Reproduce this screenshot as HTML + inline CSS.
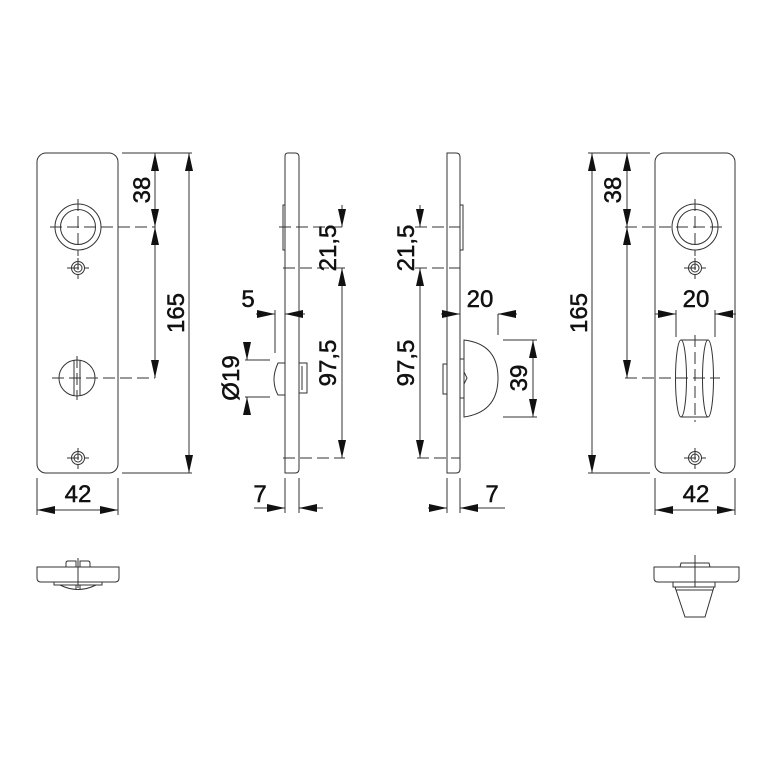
<!DOCTYPE html>
<html><head><meta charset="utf-8"><style>
html,body{margin:0;padding:0;background:#fff}
#w{position:relative;width:772px;height:772px;overflow:hidden}
svg{display:block;position:absolute;left:0;top:0}
.u,.d,.r,.l{position:absolute;width:0;height:0}
.u{border-left:4px solid transparent;border-right:4px solid transparent;border-bottom:18px solid #111}
.d{border-left:4px solid transparent;border-right:4px solid transparent;border-top:18px solid #111}
.r{border-top:4px solid transparent;border-bottom:4px solid transparent;border-left:18px solid #111}
.l{border-top:4px solid transparent;border-bottom:4px solid transparent;border-right:18px solid #111}
</style></head><body><div id="w">
<svg width="772" height="772" viewBox="0 0 772 772" xmlns="http://www.w3.org/2000/svg">
<g fill="none" stroke="#333" stroke-width="1">
<rect x="37" y="153" width="81" height="320" rx="9"/>
<circle cx="78" cy="227" r="23"/><circle cx="78" cy="227" r="17.5"/>
<circle cx="78" cy="268" r="6.5"/><circle cx="78" cy="268" r="4"/>
<circle cx="77" cy="378" r="18"/>
<line x1="74" y1="360" x2="74" y2="396"/><line x1="80" y1="360" x2="80" y2="396"/>
<circle cx="78" cy="458" r="6.5"/><circle cx="78" cy="458" r="4"/>
<g stroke-dasharray="12,5">
<line x1="50" y1="227" x2="155" y2="227"/><line x1="78" y1="199" x2="78" y2="256"/>
<line x1="52" y1="378" x2="155" y2="378"/><line x1="77" y1="356" x2="77" y2="400"/>
<line x1="78" y1="258" x2="78" y2="279"/><line x1="67" y1="268" x2="89" y2="268"/>
<line x1="78" y1="448" x2="78" y2="469"/><line x1="67" y1="458" x2="89" y2="458"/>
</g>
<line x1="122" y1="153" x2="192" y2="153"/><line x1="122" y1="473" x2="192" y2="473"/>
<line x1="155" y1="153" x2="155" y2="378"/>
<line x1="189" y1="153" x2="189" y2="473"/>
<line x1="37" y1="478" x2="37" y2="515"/><line x1="118" y1="478" x2="118" y2="515"/>
<line x1="37" y1="510" x2="118" y2="510"/>

<path d="M285,473 L285,156 Q285,153 288,153 L295,153 Q299,153 299,157 L299,469 Q299,473 295,473 Z"/>
<rect x="283" y="205" width="2" height="45"/>
<path d="M285,363 L278,363 Q274,372 274,379 Q274,388 278,395 L285,395"/>
<rect x="299" y="363" width="8" height="30"/><line x1="302" y1="366" x2="302" y2="390"/>
<g stroke-dasharray="12,5">
<line x1="279" y1="227" x2="345" y2="227"/><line x1="283" y1="268" x2="345" y2="268"/>
<line x1="283" y1="458" x2="345" y2="458"/>
</g>
<line x1="342" y1="205" x2="342" y2="227"/>
<line x1="342" y1="268" x2="342" y2="458"/>
<line x1="275" y1="310" x2="275" y2="353"/>
<line x1="256" y1="314" x2="275" y2="314"/>
<line x1="305" y1="314" x2="285" y2="314"/>
<line x1="245" y1="360" x2="270" y2="360"/><line x1="245" y1="397" x2="270" y2="397"/>
<line x1="247" y1="342" x2="247" y2="360"/>
<line x1="247" y1="415" x2="247" y2="397"/>
<line x1="285" y1="478" x2="285" y2="513"/><line x1="299" y1="478" x2="299" y2="513"/>
<line x1="254" y1="508" x2="285" y2="508"/>
<line x1="323" y1="508" x2="299" y2="508"/>

<path d="M447,473 L447,153 L456,153 Q460,153 460,157 L460,469 Q460,473 456,473 Z"/>
<rect x="460" y="205" width="3" height="45"/>
<rect x="443" y="364" width="4" height="30"/>
<rect x="460" y="359" width="4" height="39"/>
<path d="M464,340 Q498,344 498,378 Q498,412 464,417 Z"/>
<path d="M464,372 L467,378 L464,384"/>
<g stroke-dasharray="12,5">
<line x1="415" y1="227" x2="460" y2="227"/><line x1="415" y1="268" x2="460" y2="268"/>
<line x1="417" y1="458" x2="460" y2="458"/>
</g>
<line x1="420" y1="205" x2="420" y2="227"/>
<line x1="420" y1="268" x2="420" y2="458"/>
<line x1="441" y1="314" x2="460" y2="314"/>
<line x1="517" y1="314" x2="498" y2="314"/>
<line x1="498" y1="314" x2="498" y2="335"/>
<line x1="503" y1="340" x2="537" y2="340"/><line x1="503" y1="417" x2="537" y2="417"/>
<line x1="533" y1="340" x2="533" y2="417"/>
<line x1="447" y1="478" x2="447" y2="513"/><line x1="460" y1="478" x2="460" y2="513"/>
<line x1="428" y1="508" x2="447" y2="508"/>
<line x1="505" y1="508" x2="460" y2="508"/>

<rect x="655" y="153" width="80" height="320" rx="9"/>
<circle cx="695" cy="227" r="23"/><circle cx="695" cy="227" r="17.5"/>
<circle cx="695" cy="268" r="6.5"/><circle cx="695" cy="268" r="4"/>
<circle cx="695" cy="458" r="6.5"/><circle cx="695" cy="458" r="4"/>
<ellipse cx="681" cy="378.5" rx="5.5" ry="38.5"/><ellipse cx="708" cy="378.5" rx="5.5" ry="38.5"/>
<line x1="681" y1="340" x2="708" y2="340"/><line x1="681" y1="417" x2="708" y2="417"/>
<g stroke-dasharray="12,5">
<line x1="625" y1="227" x2="722" y2="227"/><line x1="695" y1="199" x2="695" y2="256"/>
<line x1="625" y1="378" x2="720" y2="378"/><line x1="695" y1="335" x2="695" y2="422"/>
<line x1="695" y1="258" x2="695" y2="279"/><line x1="684" y1="268" x2="706" y2="268"/>
<line x1="695" y1="448" x2="695" y2="469"/><line x1="684" y1="458" x2="706" y2="458"/>
</g>
<line x1="588" y1="153" x2="650" y2="153"/><line x1="588" y1="473" x2="650" y2="473"/>
<line x1="627" y1="153" x2="627" y2="378"/>
<line x1="592" y1="153" x2="592" y2="473"/>
<line x1="676" y1="310" x2="676" y2="337"/><line x1="715" y1="310" x2="715" y2="337"/>
<line x1="655" y1="314" x2="676" y2="314"/>
<line x1="736" y1="314" x2="715" y2="314"/>
<line x1="655" y1="478" x2="655" y2="515"/><line x1="735" y1="478" x2="735" y2="515"/>
<line x1="655" y1="510" x2="735" y2="510"/>

<path d="M37,567 L119,567 L119,578 Q119,582 115,582 L41,582 Q37,582 37,578 Z"/>
<path d="M66,567 L66,563 Q66,561 68,561 L76,561 L76,567"/>
<path d="M80,567 L80,561 L88,561 Q90,561 90,563 L90,567"/>
<path d="M54,582 L54,585 L102,585 L102,582"/>
<path d="M60,585 Q78,594 96,585"/>
<line x1="76" y1="585" x2="76" y2="590"/><line x1="80" y1="585" x2="80" y2="590"/>
<line x1="78" y1="558" x2="78" y2="588"/>

<path d="M654,567 L739,567 L739,578 Q739,582 735,582 L658,582 Q654,582 654,578 Z"/>
<path d="M680,567 L681,563 L709,563 L710,567"/>
<path d="M673,582 L673,587 L715,587 L715,582"/>
<path d="M675,587 L676,590 L713,590 L714,587"/>
<path d="M676,590 L685,617 L705,617 L713,590"/>
<line x1="695" y1="555" x2="695" y2="587"/>
</g>

<g font-family="Liberation Sans, Arial, sans-serif" font-size="24" fill="#111" stroke="#111" stroke-width="0.5" text-anchor="middle">
<text transform="translate(150,190) rotate(-90)">38</text>
<text transform="translate(184,313) rotate(-90)">165</text>
<text x="78" y="502">42</text>
<text x="248" y="307">5</text>
<text transform="translate(336,248) rotate(-90)">21,5</text>
<text transform="translate(336,363) rotate(-90)">97,5</text>
<text transform="translate(239,378) rotate(-90)">Ø19</text>
<text x="260" y="502">7</text>
<text transform="translate(414,248) rotate(-90)">21,5</text>
<text transform="translate(414,363) rotate(-90)">97,5</text>
<text x="480" y="307">20</text>
<text transform="translate(527,378) rotate(-90)">39</text>
<text x="492" y="502">7</text>
<text transform="translate(621,190) rotate(-90)">38</text>
<text transform="translate(587,313) rotate(-90)">165</text>
<text x="696" y="307">20</text>
<text x="696" y="502">42</text>
</g>
</svg>

<div class="u" style="left:151px;top:153px"></div>
<div class="d" style="left:151px;top:209px"></div>
<div class="u" style="left:151px;top:227px"></div>
<div class="d" style="left:151px;top:360px"></div>
<div class="u" style="left:185px;top:153px"></div>
<div class="d" style="left:185px;top:455px"></div>
<div class="l" style="left:37px;top:506px"></div>
<div class="r" style="left:100px;top:506px"></div>

<div class="d" style="left:338px;top:209px"></div>
<div class="u" style="left:338px;top:268px"></div>
<div class="d" style="left:338px;top:440px"></div>
<div class="r" style="left:257px;top:310px"></div>
<div class="l" style="left:285px;top:310px"></div>
<div class="d" style="left:243px;top:342px"></div>
<div class="u" style="left:243px;top:397px"></div>
<div class="r" style="left:267px;top:504px"></div>
<div class="l" style="left:299px;top:504px"></div>

<div class="d" style="left:416px;top:209px"></div>
<div class="u" style="left:416px;top:268px"></div>
<div class="d" style="left:416px;top:440px"></div>
<div class="r" style="left:442px;top:310px"></div>
<div class="l" style="left:498px;top:310px"></div>
<div class="u" style="left:529px;top:340px"></div>
<div class="d" style="left:529px;top:399px"></div>
<div class="r" style="left:429px;top:504px"></div>
<div class="l" style="left:460px;top:504px"></div>

<div class="u" style="left:623px;top:153px"></div>
<div class="d" style="left:623px;top:209px"></div>
<div class="u" style="left:623px;top:227px"></div>
<div class="d" style="left:623px;top:360px"></div>
<div class="u" style="left:588px;top:153px"></div>
<div class="d" style="left:588px;top:455px"></div>
<div class="r" style="left:658px;top:310px"></div>
<div class="l" style="left:715px;top:310px"></div>
<div class="l" style="left:655px;top:506px"></div>
<div class="r" style="left:717px;top:506px"></div>
</div></body></html>
